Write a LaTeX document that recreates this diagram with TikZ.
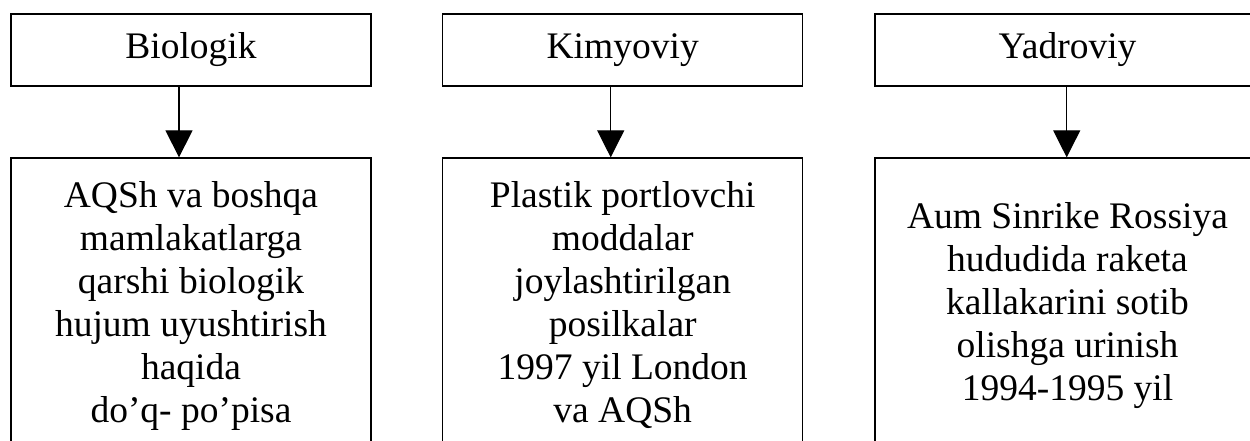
\documentclass[tikz,border=0pt]{standalone}
\usepackage{fontspec}
\setmainfont{Liberation Serif}
\usetikzlibrary{arrows.meta}
\begin{document}
\begin{tikzpicture}[x=1pt,y=-1pt,
  box/.style={draw, line width=1.3pt, inner sep=0pt, align=center, font=\fontsize{37.5}{43}\selectfont},
  topbox/.style={box, minimum height=72pt},
  botbox/.style={box, minimum height=296pt},
  arr/.style={line width=1.3pt, -{Triangle[width=27pt,length=27pt]}}]
\useasboundingbox (0,0) rectangle (1250,441);
\clip (0,0) rectangle (1250,441);
\node[topbox, minimum width=360pt] (t1) at (191,50) {Biologik};
\node[topbox, minimum width=360pt] (t2) at (622.7,50) {Kimyoviy};
\node[topbox, minimum width=385pt] (t3) at (1067.5,50) {Yadroviy};
\node[botbox, minimum width=360pt] (b1) at (191,306) {\strut AQSh va boshqa\\\strut mamlakatlarga\\\strut qarshi biologik\\\strut hujum uyushtirish\\\strut haqida\\\strut do’q- po’pisa};
\node[botbox, minimum width=360pt] (b2) at (622.7,306) {\strut Plastik portlovchi\\\strut moddalar\\\strut joylashtirilgan\\\strut posilkalar\\\strut 1997 yil London\\\strut va AQSh};
\node[botbox, minimum width=385pt] (b3) at (1067.5,306) {\strut Aum Sinrike Rossiya\\\strut hududida raketa\\\strut kallakarini sotib\\\strut olishga urinish\\\strut 1994-1995 yil};
\draw[arr] ([xshift=-12pt]t1.south) -- ([xshift=-12pt]b1.north);
\draw[arr] ([xshift=-12pt]t2.south) -- ([xshift=-12pt]b2.north);
\draw[arr] ([xshift=-0.8pt]t3.south) -- ([xshift=-0.8pt]b3.north);
\end{tikzpicture}
\end{document}
